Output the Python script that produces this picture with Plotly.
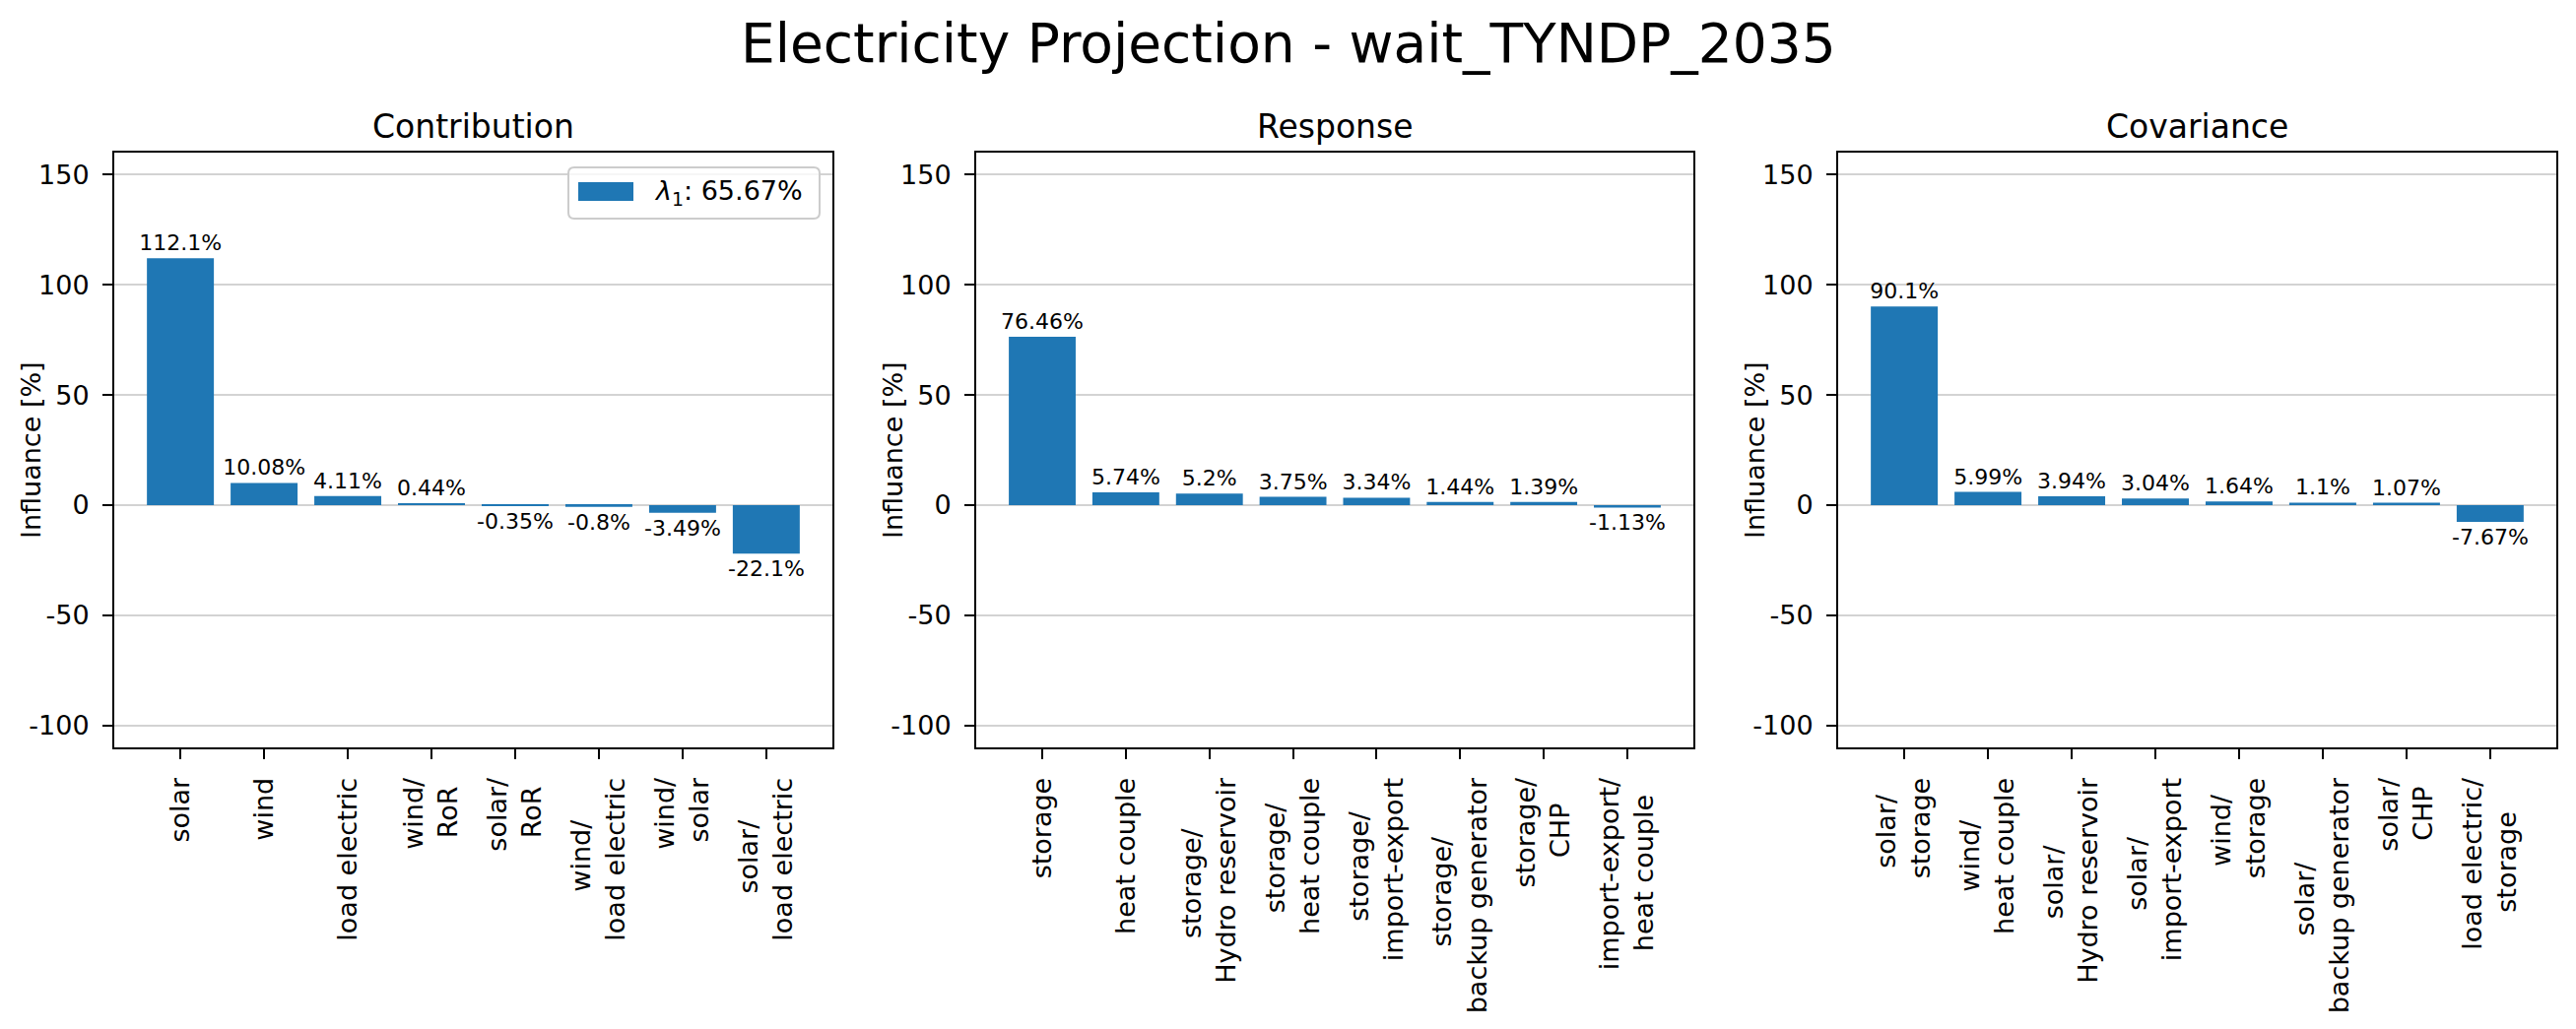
import plotly.graph_objects as go

# ---------------- data ----------------
contrib_labels = ["solar", "wind", "load electric", "wind/\nRoR", "solar/\nRoR",
                  "wind/\nload electric", "wind/\nsolar", "solar/\nload electric"]
contrib_values = [112.1, 10.08, 4.11, 0.44, -0.35, -0.8, -3.49, -22.1]

response_labels = ["storage", "heat couple", "storage/\nHydro reservoir", "storage/\nheat couple",
                   "storage/\nimport-export", "storage/\nbackup generator", "storage/\nCHP",
                   "import-export/\nheat couple"]
response_values = [76.46, 5.74, 5.2, 3.75, 3.34, 1.44, 1.39, -1.13]

cov_labels = ["solar/\nstorage", "wind/\nheat couple", "solar/\nHydro reservoir", "solar/\nimport-export",
              "wind/\nstorage", "solar/\nbackup generator", "solar/\nCHP", "load electric/\nstorage"]
cov_values = [90.1, 5.99, 3.94, 3.04, 1.64, 1.1, 1.07, -7.67]

panel_titles = ["Contribution", "Response", "Covariance"]
y_tick_values = [-100, -50, 0, 50, 100, 150]
y_tick_labels = ["-100", "-50", "0", "50", "100", "150"]
lambda_value = "65.67"
suptitle = "Electricity Projection - wait_TYNDP_2035"
y_title = "Influance [%]"

# ---------------- layout helpers ----------------
PAGE_W, PAGE_H = 2615, 1045
OFF = 8  # default body margin of the html page
W, H = PAGE_W - 2 * OFF, PAGE_H - 2 * OFF
FONT = "DejaVu Sans"
BLUE = "#1f77b4"

# approximate DejaVu Sans advance widths (em) used to centre multi-line tick labels
_CW = {"a": .613, "b": .635, "c": .550, "d": .635, "e": .615, "g": .635, "h": .634, "i": .278,
       "j": .278, "k": .579, "l": .278, "m": .974, "n": .634, "o": .612, "p": .635, "r": .411,
       "s": .521, "t": .392, "u": .634, "v": .592, "w": .818, "x": .592, "y": .592,
       "C": .698, "H": .752, "P": .603, "R": .695, "/": .337, "-": .361, " ": .318}
NBSP_W = .318


def text_w(s):
    return sum(_CW.get(ch, .6) for ch in s)


def centred_label(label):
    """emulate matplotlib's centred multi-line alignment for rotated tick labels"""
    lines = label.split("\n")
    if len(lines) == 1:
        return label
    wmax = max(text_w(l) for l in lines)
    out = []
    for l in lines:
        n = int(round((wmax - text_w(l)) / 2 / NBSP_W))
        out.append(l + "\u00a0" * n)
    return "<br>".join(out)


def px(x):
    """page pixel x -> paper coordinate"""
    return (x - OFF) / W


def py(y):
    """page pixel y (from top) -> paper coordinate"""
    return 1 - (y - OFF) / H


x_domains_px = [(116, 845), (991, 1719), (1866, 2595)]
y_domain_px = (155, 759)

fig = go.Figure()

panels = [(contrib_labels, contrib_values), (response_labels, response_values), (cov_labels, cov_values)]

for i, (labels, values) in enumerate(panels):
    ax = "" if i == 0 else str(i + 1)
    cats = [lab.replace("\n", "<br>") for lab in labels]
    fig.add_trace(go.Bar(
        x=cats, y=values,
        marker=dict(color=BLUE, line=dict(width=0)),
        text=[f"{v}%" for v in values],
        textposition="outside",
        textfont=dict(family=FONT, size=22, color="black"),
        constraintext="none",
        cliponaxis=False,
        xaxis="x" + ax, yaxis="y" + ax,
        showlegend=False,
        name=f"λ1: {lambda_value}%",
    ))
    x0, x1 = x_domains_px[i]
    axis_common = dict(
        showline=True, linecolor="black", linewidth=2, mirror=True,
        ticks="outside", ticklen=10, tickwidth=2, tickcolor="black",
        tickfont=dict(family=FONT, size=27, color="black"),
        zeroline=False,
    )
    fig.update_layout(**{
        "xaxis" + ax: dict(
            domain=[px(x0), px(x1)], anchor="y" + ax,
            type="category", range=[-0.79, 7.79], tickangle=-90,
            tickvals=cats, ticktext=[centred_label(lab) for lab in labels],
            showgrid=False, ticklabelstandoff=8, **axis_common),
        "yaxis" + ax: dict(
            domain=[py(y_domain_px[1]), py(y_domain_px[0])], anchor="x" + ax,
            range=[-110, 160], tickvals=y_tick_values, ticktext=y_tick_labels,
            showgrid=True, gridcolor="#d3d3d3", gridwidth=1.5,
            ticklabelstandoff=8, **axis_common),
    })
    # subplot title
    fig.add_annotation(text=panel_titles[i], x=px((x0 + x1) / 2), y=py(150),
                       xref="paper", yref="paper", xanchor="center", yanchor="bottom",
                       showarrow=False, font=dict(family=FONT, size=33, color="black"))
    # y-axis title
    fig.add_annotation(text=y_title, x=px(x0 - 85), y=py(457), textangle=-90,
                       xref="paper", yref="paper", xanchor="center", yanchor="middle",
                       showarrow=False, font=dict(family=FONT, size=27, color="black"))

# suptitle
fig.add_annotation(text=suptitle, x=px(PAGE_W / 2), y=py(78), xref="paper", yref="paper",
                   xanchor="center", yanchor="bottom", showarrow=False,
                   font=dict(family=FONT, size=55, color="black"))

# legend box (drawn manually, matplotlib style)
lx0, lx1, ly0, ly1, r = 577, 832, 170, 222, 6


def rounded_path(x0, y0, x1, y1, r):
    return (f"M {px(x0 + r)},{py(y0)} L {px(x1 - r)},{py(y0)} Q {px(x1)},{py(y0)} {px(x1)},{py(y0 + r)} "
            f"L {px(x1)},{py(y1 - r)} Q {px(x1)},{py(y1)} {px(x1 - r)},{py(y1)} "
            f"L {px(x0 + r)},{py(y1)} Q {px(x0)},{py(y1)} {px(x0)},{py(y1 - r)} "
            f"L {px(x0)},{py(y0 + r)} Q {px(x0)},{py(y0)} {px(x0 + r)},{py(y0)} Z")


fig.add_shape(type="path", path=rounded_path(lx0, ly0, lx1, ly1, r), xref="paper", yref="paper",
              line=dict(color="#cccccc", width=2), fillcolor="rgba(255,255,255,0.8)", layer="above")
fig.add_shape(type="rect", x0=px(587), x1=px(643), y0=py(204), y1=py(185), xref="paper", yref="paper",
              line=dict(width=0), fillcolor=BLUE, layer="above")
fig.add_annotation(text=f"<i>λ</i><sub>1</sub>: {lambda_value}%", x=px(662), y=py(196),
                   xref="paper", yref="paper", xanchor="left", yanchor="middle", showarrow=False,
                   font=dict(family=FONT, size=27, color="black"))

fig.update_layout(
    width=W, height=H,
    margin=dict(l=0, r=0, t=0, b=0),
    paper_bgcolor="white", plot_bgcolor="white",
    bargap=0.2,
    font=dict(family=FONT, color="black"),
)

fig.write_html("out.html")
